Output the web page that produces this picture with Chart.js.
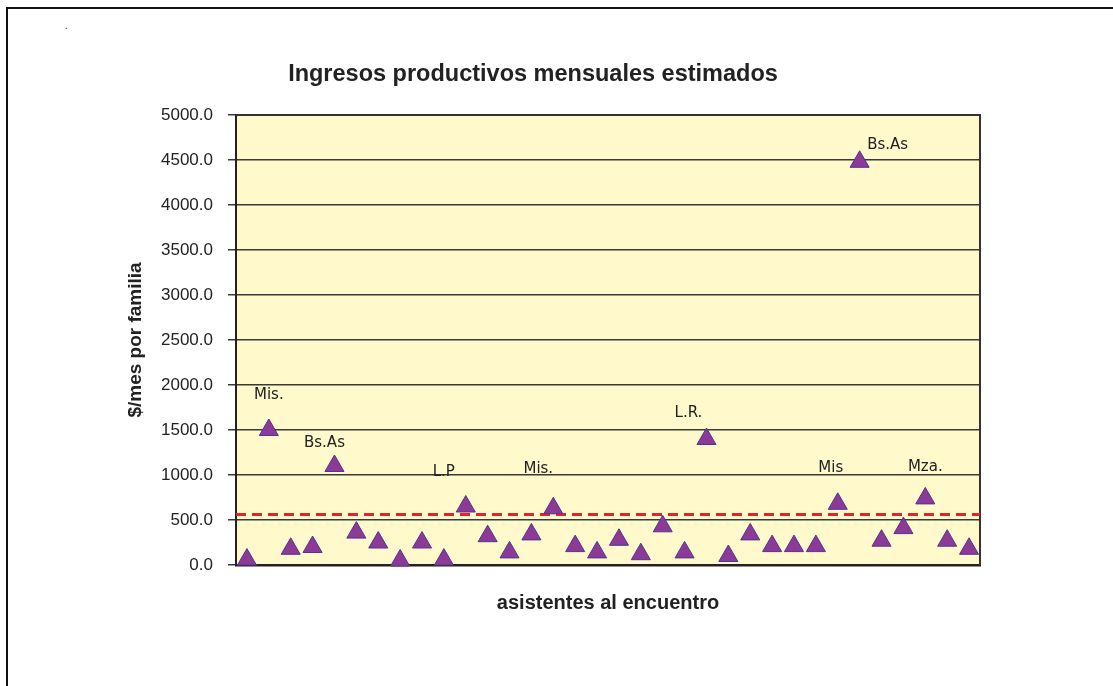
<!DOCTYPE html>
<html>
<head>
<meta charset="utf-8">
<script src="https://cdn.jsdelivr.net/npm/chart.js@4"></script>
<style>
  html, body { margin: 0; padding: 0; background: #fff; }
  #wrap { position: relative; width: 1113px; height: 686px; overflow: hidden; }
  #frame { position: absolute; left: 6px; top: 7px; width: 1120px; height: 700px;
           border-top: 2px solid #111; border-left: 2px solid #111; }
  #dot { position: absolute; left: 65px; top: 20px; font: 10px 'Liberation Sans', Arial, sans-serif; color: #333; }
  #title { position: absolute; left: 233px; width: 600px; top: 60px; text-align: center;
           font: bold 23.5px 'Liberation Sans', Arial, sans-serif; color: #222; z-index: 2; }
  canvas { position: absolute; left: 0; top: 0; }
</style>
</head>
<body>
<div id="wrap">
  <div id="frame"></div>
  <span id="dot">.</span>
  <div id="title">Ingresos productivos mensuales estimados</div>
  <canvas id="chart" width="1113" height="686"></canvas>
</div>
<script>
// Ingresos productivos mensuales estimados

const categories = ['1', '2', '3', '4', '5', '6', '7', '8', '9', '10', '11', '12',
    '13', '14', '15', '16', '17', '18', '19', '20', '21', '22', '23', '24',
    '25', '26', '27', '28', '29', '30', '31', '32', '33', '34'];

const ingresos = [60, 1500, 180, 200, 1100, 360, 250, 50, 250, 60, 650, 320,
    140, 340, 630, 210, 140, 280, 120, 430, 140, 1400, 100, 340,
    210, 210, 210, 680, 4480, 270, 410, 740, 270, 180];

const pointLabels = ['', 'Mis.', '', '', 'Bs.As', '', '', '', '', '', 'L.P', '',
    '', '', 'Mis.', '', '', '', '', '', '', 'L.R.', '', '',
    '', '', '', 'Mis', 'Bs.As', '', '', 'Mza.', '', ''];

const promedio = [560];

const yTicks = [0, 500, 1000, 1500, 2000, 2500, 3000, 3500, 4000, 4500, 5000];

// label placement (px from the point), only styling
const labelOffsets = {
    1: [0, -35], 4: [-10, -23], 10: [-22, -34], 14: [-15, -39],
    21: [-18, -26], 27: [-7, -36], 28: [28, -17], 31: [0, -31]
};

const FONT = "'Liberation Sans', Arial, sans-serif";

const plotBox = {
    id: 'plotBox',
    beforeDraw(chart) {
        const { ctx, chartArea: a } = chart;
        ctx.save();
        ctx.fillStyle = '#fff9cb';
        ctx.fillRect(a.left, a.top, a.right - a.left, a.bottom - a.top);
        ctx.restore();
    },
    beforeDatasetsDraw(chart) {
        const { ctx, chartArea: a } = chart;
        ctx.save();
        // right and top border of the plot
        ctx.strokeStyle = '#333';
        ctx.lineWidth = 2;
        ctx.beginPath();
        ctx.moveTo(a.left, a.top);
        ctx.lineTo(a.right, a.top);
        ctx.lineTo(a.right, a.bottom);
        ctx.stroke();
        // average line
        const y = chart.scales.y.getPixelForValue(promedio[0]);
        ctx.strokeStyle = '#e8232b';
        ctx.lineWidth = 3;
        ctx.setLineDash([10, 6]);
        ctx.beginPath();
        ctx.moveTo(a.left, y);
        ctx.lineTo(a.right, y);
        ctx.stroke();
        ctx.restore();
    },
    afterDatasetsDraw(chart) {
        const { ctx } = chart;
        const meta = chart.getDatasetMeta(0);
        ctx.save();
        ctx.font = "15px 'DejaVu Sans', Verdana, sans-serif";
        ctx.fillStyle = '#222';
        ctx.textAlign = 'center';
        ctx.textBaseline = 'middle';
        pointLabels.forEach((txt, i) => {
            if (!txt) return;
            const p = meta.data[i];
            const off = labelOffsets[i] || [0, -30];
            ctx.fillText(txt, p.x + off[0], p.y + off[1]);
        });
        ctx.restore();
    }
};

new Chart(document.getElementById('chart'), {
    type: 'line',
    data: {
        labels: categories,
        datasets: [{
            data: ingresos,
            showLine: false,
            pointStyle: 'triangle',
            pointRadius: 11,
            pointBackgroundColor: '#8b3a98',
            pointBorderColor: '#55338f',
            pointBorderWidth: 1,
            clip: false
        }]
    },
    options: {
        responsive: false,
        animation: false,
        layout: { padding: { left: 124, right: 133, top: 115, bottom: 71 } },
        plugins: {
            legend: { display: false },
            tooltip: { enabled: false },
            title: { display: false }
        },
        scales: {
            x: {
                offset: true,
                grid: { display: false, drawTicks: false },
                border: { display: true, color: '#222', width: 2.5 },
                ticks: { display: false },
                title: {
                    display: true,
                    text: 'asistentes al encuentro',
                    color: '#222',
                    font: { family: FONT, size: 20, weight: 'bold' },
                    padding: { top: 26, bottom: 0 }
                }
            },
            y: {
                min: 0,
                max: 5000,
                afterFit(scale) { scale.width = 112; },
                afterBuildTicks(scale) { scale.ticks = yTicks.map(v => ({ value: v })); },
                grid: { color: '#3a3a3a', lineWidth: 1.5, tickLength: 8, drawTicks: true },
                border: { display: true, color: '#222', width: 2 },
                ticks: {
                    color: '#222',
                    padding: 15,
                    font: { family: FONT, size: 17 },
                    callback: v => Number(v).toFixed(1)
                },
                title: {
                    display: true,
                    text: '$/mes por familia',
                    color: '#222',
                    font: { family: FONT, size: 19, weight: 'bold' },
                    padding: { top: 0, bottom: 0 }
                }
            }
        }
    },
    plugins: [plotBox]
});
</script>
</body>
</html>
